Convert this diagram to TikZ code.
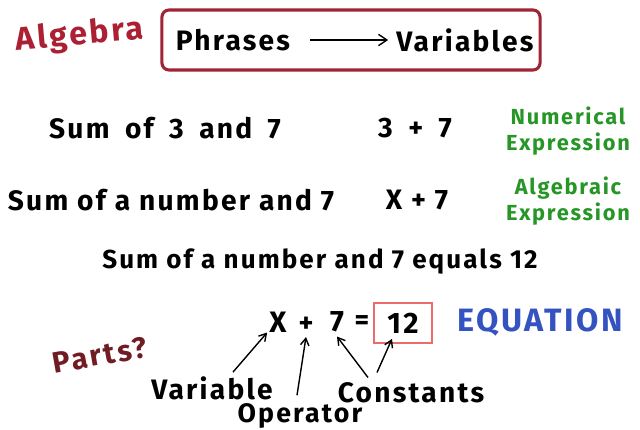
\documentclass[tikz,border=0pt]{standalone}
\usepackage{fontspec}
\setmainfont{Fira Sans}
\newfontfamily\handfont[LetterSpace=8]{Fira Sans}
\newcommand\widewords{\spaceskip 0.55em\relax}
\usepackage{xcolor}
\usetikzlibrary{arrows.meta, positioning, calc}
\definecolor{algred}{RGB}{172, 32, 52}
\definecolor{boxred}{RGB}{158, 36, 54}
\definecolor{partsred}{RGB}{112, 28, 34}
\definecolor{exprgreen}{RGB}{38, 150, 38}
\definecolor{eqblue}{RGB}{52, 82, 192}
\definecolor{salmon}{RGB}{236, 108, 108}

\begin{document}
\begin{tikzpicture}[
    x=0.025cm, y=-0.025cm,
    hand/.style={inner sep=0pt, font=\handfont\bfseries\fontsize{20}{22}\selectfont},
    wide/.style={font=\handfont\bfseries\fontsize{20}{22}\selectfont\widewords},
    small/.style={inner sep=0pt, font=\handfont\bfseries\fontsize{15.5}{18}\selectfont, align=center},
    pointer/.style={-{Straight Barb[length=5pt,width=6pt]}, line width=1pt},
]
    \useasboundingbox (0,0) rectangle (640,429);

    % Title
    \node[hand, color=algred, rotate=5, font=\handfont\bfseries\fontsize{23}{25}\selectfont] (algebra) at (80,36) {Algebra};
    \node[draw=boxred, line width=2.2pt, rounded corners=5pt, minimum width=9.45cm, minimum height=1.5cm] (frame) at (351,40) {};
    \node[hand] (phrases) at (233,40) {Phrases};
    \node[hand] (variables) at (465,40) {Variables};
    \draw[-{Straight Barb[length=6pt,width=8pt]}, line width=1pt] ([xshift=0.5cm]phrases.east) -- ([xshift=-0.2cm]variables.west);

    % Numerical expression
    \node[hand, wide] (sum1) at (165,128) {Sum of 3 and 7};
    \node[hand, wide] (expr1) at (415,128) {3 + 7};
    \node[small, color=exprgreen] (num) at (568,131) {Numerical\\Expression};

    % Algebraic expression
    \node[hand] (sum2) at (171,200) {Sum of a number and 7};
    \node[hand] (expr2) at (417,200) {X + 7};
    \node[small, color=exprgreen] (alg) at (568,201) {Algebraic\\Expression};

    % Equation
    \node[hand, font=\handfont\bfseries\fontsize{18.5}{20}\selectfont] (sum3) at (320,262) {Sum of a number and 7 equals 12};
    \node[hand, font=\handfont\bfseries\fontsize{21}{22}\selectfont] (xvar) at (278,322) {X};
    \node[hand] (plus) at (306,325) {+};
    \node[hand, font=\handfont\bfseries\fontsize{21}{22}\selectfont] (seven) at (337,322) {7};
    \node[hand] (equals) at (362,323) {=};
    \node[hand, draw=salmon, line width=1.2pt, minimum width=1.45cm, minimum height=1cm, font=\handfont\bfseries\fontsize{21}{22}\selectfont] (twelve) at (403,323) {12};
    \node[hand, color=eqblue, font=\handfont\bfseries\fontsize{23}{24}\selectfont] (equation) at (540,322) {EQUATION};

    % Parts
    \node[hand, color=partsred, rotate=10, font=\handfont\bfseries\fontsize{21}{23}\selectfont] (parts) at (100,355) {Parts?};
    \node[hand] (variable) at (212,388) {Variable};
    \node[hand, font=\handfont\bfseries\fontsize{19}{20}\selectfont] (operator) at (300,416) {Operator};
    \node[hand] (constants) at (411,393) {Constants};

    \draw[pointer] ($(variable.north)+(21,-4)$) -- ($(xvar.south west)+(-2,0)$);
    \draw[pointer] ($(operator.north)+(-3,-8)$) -- ($(plus.south)+(0,4)$);
    \draw[pointer] ($(constants.north)+(-43,-5)$) -- ($(seven.south)+(0,4)$);
    \draw[pointer] ($(constants.north)+(-34,-10)$) -- ($(twelve.south)+(-11,-5)$);
\end{tikzpicture}
\end{document}
